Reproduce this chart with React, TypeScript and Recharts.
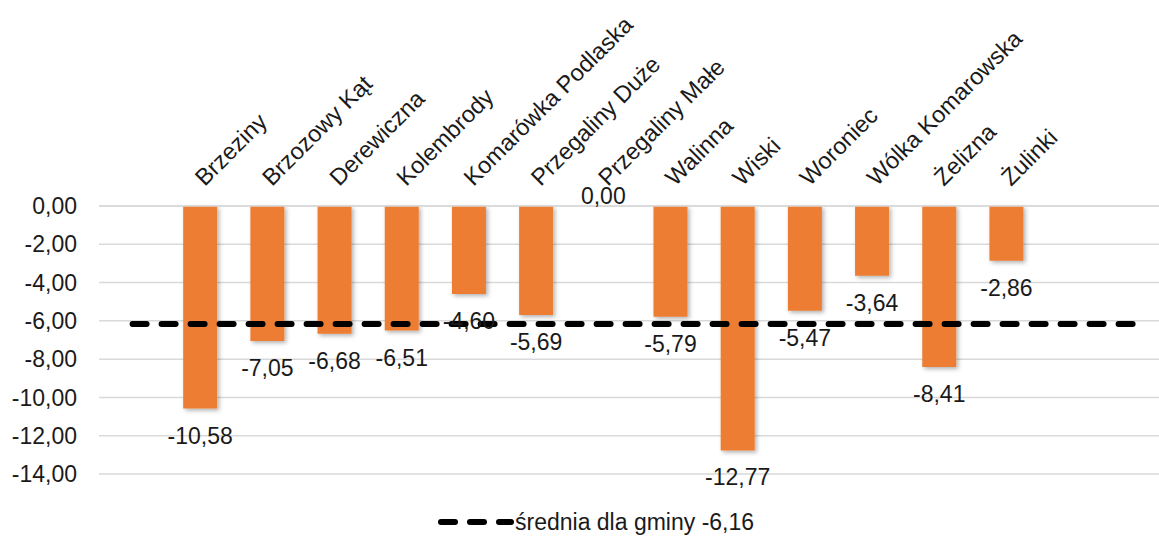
import { ComposedChart, Bar, Line, XAxis, YAxis, CartesianGrid, LabelList } from "recharts";

const FONT = '"Liberation Sans", Arial, sans-serif';

// empty slots at both ends so the average line runs past the bars, like in Excel
const categories = [
  "",
  "Brzeziny",
  "Brzozowy Kąt",
  "Derewiczna",
  "Kolembrody",
  "Komarówka Podlaska",
  "Przegaliny Duże",
  "Przegaliny Małe",
  "Walinna",
  "Wiski",
  "Woroniec",
  "Wólka Komarowska",
  "Żelizna",
  "Żulinki",
  "",
  "",
];
const values: (number | null)[] = [
  null, -10.58, -7.05, -6.68, -6.51, -4.6, -5.69, 0, -5.79, -12.77, -5.47, -3.64, -8.41, -2.86, null, null,
];
const average = -6.16;
const yTicks = [0, -2, -4, -6, -8, -10, -12, -14];

const data = categories.map((name, i) => ({ name, value: values[i], avg: average }));

const fmt = (v: number) => v.toFixed(2).replace(".", ",");

function CategoryTick(props: any) {
  const { x, y, payload } = props;
  if (!payload.value) return null;
  const tx = x + 5;
  const ty = y - 19;
  return (
    <text
      x={tx}
      y={ty}
      transform={`rotate(-45, ${tx}, ${ty})`}
      textAnchor="start"
      fontSize={23.5}
      fontFamily={FONT}
      fill="#1a1a1a"
    >
      {payload.value}
    </text>
  );
}

function ValueLabel(props: any) {
  const { x, y, width, height, value } = props;
  if (value == null) return null;
  const cx = x + width / 2;
  let ty;
  if (value < 0) {
    ty = Math.max(y, y + height) + 27;
  } else {
    ty = Math.min(y, y + height) - 10;
  }
  return (
    <text x={cx} y={ty} textAnchor="middle" dominantBaseline="central" fontSize={23} fontFamily={FONT} fill="#1a1a1a">
      {fmt(value)}
    </text>
  );
}

export default function App() {
  return (
    <div style={{ position: "absolute", left: 0, top: 0, width: 1159, height: 536, overflow: "hidden", background: "#fff" }}>
      <svg width={0} height={0} style={{ position: "absolute" }}>
        <defs>
          <filter id="barShadow" x="-20%" y="-20%" width="150%" height="150%">
            <feDropShadow dx={2} dy={2} stdDeviation={2} floodColor="#000" floodOpacity={0.3} />
          </filter>
        </defs>
      </svg>
      <ComposedChart
        width={1180}
        height={536}
        data={data}
        margin={{ top: 186, right: 6, bottom: 62, left: 0 }}
        barCategoryGap="25%"
      >
        <CartesianGrid vertical={false} stroke="#d9d9d9" strokeWidth={1.5} />
        <XAxis
          dataKey="name"
          orientation="top"
          height={20}
          axisLine={{ stroke: "#d9d9d9", strokeWidth: 1.5 }}
          tickLine={false}
          tickSize={0}
          tickMargin={0}
          interval={0}
          tick={<CategoryTick />}
        />
        <YAxis
          domain={[-14, 0]}
          ticks={yTicks}
          width={99}
          axisLine={false}
          tickLine={false}
          tickSize={0}
          tickMargin={22}
          tickFormatter={fmt}
          tick={{ fontSize: 23, fontFamily: FONT, fill: "#1a1a1a" }}
        />
        <Bar
          dataKey="value"
          fill="#ED7D31"
          barSize={34}
          minPointSize={(v: any) => (v === 0 ? 0.01 : 0)}
          isAnimationActive={false}
          style={{ filter: "url(#barShadow)" }}
        >
          <LabelList dataKey="value" content={<ValueLabel />} />
        </Bar>
        <Line
          dataKey="avg"
          type="linear"
          stroke="#000"
          strokeWidth={6}
          strokeDasharray="14 15"
          strokeLinecap="round"
          dot={false}
          activeDot={false}
          isAnimationActive={false}
        />
      </ComposedChart>
      <div
        style={{
          position: "absolute",
          left: 438,
          top: 508,
          display: "flex",
          alignItems: "center",
          fontFamily: FONT,
          fontSize: 23,
          color: "#1a1a1a",
          whiteSpace: "nowrap",
        }}
      >
        <svg width={76} height={28}>
          <line x1={3} y1={14} x2={73} y2={14} stroke="#000" strokeWidth={6} strokeDasharray="14 15" strokeLinecap="round" />
        </svg>
        <span style={{ marginLeft: 1 }}>średnia dla gminy -6,16</span>
      </div>
    </div>
  );
}
